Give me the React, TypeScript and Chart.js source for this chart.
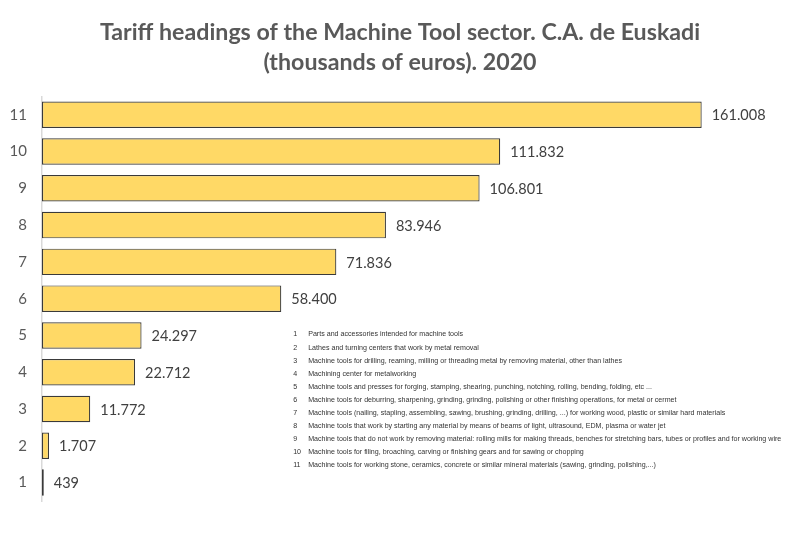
import React, { useEffect, useRef } from "react";
import { Chart, registerables } from "chart.js";

Chart.register(...registerables);

const categories = ["1", "2", "3", "4", "5", "6", "7", "8", "9", "10", "11"];
const values = [439, 1707, 11772, 22712, 24297, 58400, 71836, 83946, 106801, 111832, 161008];
const titleLines = [
  "Tariff headings of the Machine Tool sector. C.A. de Euskadi",
  "(thousands of euros). 2020",
];
const descriptions = [
  "Parts and accessories intended for machine tools",
  "Lathes and turning centers that work by metal removal",
  "Machine tools for drilling, reaming, milling or threading metal by removing material, other than lathes",
  "Machining center for metalworking",
  "Machine tools and presses for forging, stamping, shearing, punching, notching, rolling, bending, folding, etc ...",
  "Machine tools for deburring, sharpening, grinding, grinding, polishing or other finishing operations, for metal or cermet",
  "Machine tools (nailing, stapling, assembling, sawing, brushing, grinding, drilling, ...) for working wood, plastic or similar hard materials",
  "Machine tools that work by starting any material by means of beams of light, ultrasound, EDM, plasma or water jet",
  "Machine tools that do not work by removing material: rolling mills for making threads, benches for stretching bars, tubes or profiles and for working wire",
  "Machine tools for filing, broaching, carving or finishing gears and for sawing or chopping",
  "Machine tools for working stone, ceramics, concrete or similar mineral materials (sawing, grinding, polishing,...)",
];

const fmt = (v: number) => String(v).replace(/\B(?=(\d{3})+(?!\d))/g, ".");

const labelPlugin = {
  id: "valueLabels",
  afterDatasetsDraw(chart: any) {
    const ctx = chart.ctx;
    const meta = chart.getDatasetMeta(0);
    ctx.save();
    ctx.font = "14.5px Lato";
    ctx.fillStyle = "#404040";
    ctx.textAlign = "left";
    ctx.textBaseline = "middle";
    meta.data.forEach((bar: any, i: number) => {
      ctx.fillText(fmt(values[i]), bar.x + 10, bar.y + 1);
    });
    ctx.restore();
  },
};

const notesPlugin = {
  id: "notes",
  afterDraw(chart: any) {
    const ctx = chart.ctx;
    const x = chart.scales.x;
    const left = x.getPixelForValue(61300);
    const yScale = chart.scales.y;
    const top = yScale.getPixelForValue(4) - 1;
    ctx.save();
    ctx.font = "7.1px 'Liberation Sans'";
    ctx.fillStyle = "#333333";
    ctx.textBaseline = "middle";
    descriptions.forEach((d, i) => {
      const y = top + i * 13.1;
      ctx.textAlign = "left";
      ctx.fillText(String(i + 1), left, y);
      ctx.fillText(d, left + 15, y);
    });
    ctx.restore();
  },
};

export default function App() {
  const ref = useRef<HTMLCanvasElement>(null);
  useEffect(() => {
    document.body.style.margin = "0";
    const chart = new Chart(ref.current!, {
      type: "bar",
      data: {
        labels: categories,
        datasets: [
          {
            data: values,
            backgroundColor: "#FFD966",
            borderColor: "#3a3a3a",
            borderWidth: 1.2,
            borderSkipped: false,
            barPercentage: 0.72,
            categoryPercentage: 1,
          },
        ],
      },
      options: {
        indexAxis: "y",
        animation: false,
        responsive: false,
        layout: { padding: { left: 0, right: 0, top: 0, bottom: 36 } },
        plugins: {
          legend: { display: false },
          tooltip: { enabled: false },
          title: {
            display: true,
            text: titleLines,
            color: "#595959",
            font: { family: "Lato", size: 23.2, weight: "bold", lineHeight: 1.3 },
            padding: { top: 17, bottom: 19 },
          },
        },
        scales: {
          x: { display: false, min: 0, max: 185000 },
          y: {
            reverse: true,
            grid: { display: false, drawTicks: false },
            border: { display: true, color: "#d9d9d9", width: 1.5 },
            ticks: { color: "#595959", font: { family: "Lato", size: 15 }, padding: 15 },
            afterFit: (s: any) => {
              s.width = 42;
            },
          },
        },
      },
      plugins: [labelPlugin, notesPlugin],
    });
    return () => chart.destroy();
  }, []);
  return <canvas ref={ref} width={800} height={537} style={{ display: "block" }} />;
}
